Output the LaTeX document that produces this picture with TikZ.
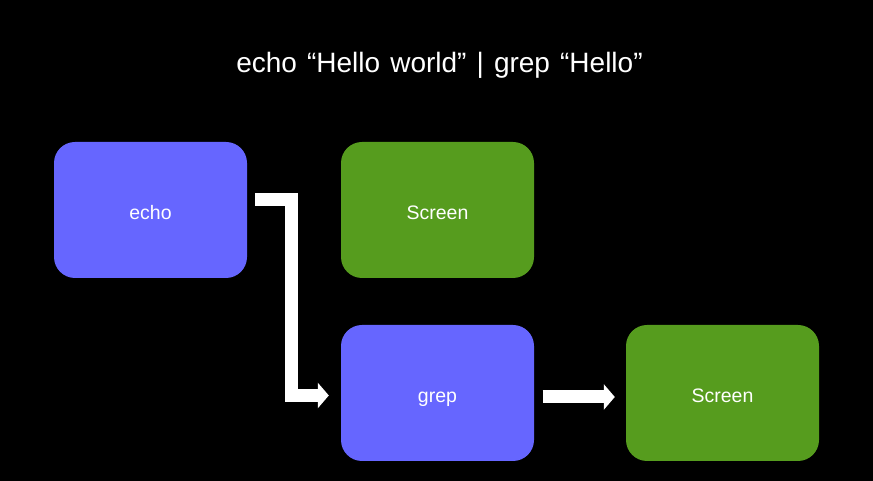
\documentclass[tikz,border=0pt]{standalone}
\usepackage{fontspec}
\setmainfont{Liberation Sans}
\newfontfamily\titlefont[WordSpace=1.3]{Liberation Sans}
\usetikzlibrary{arrows.meta}
\definecolor{boxblue}{RGB}{102,102,255}
\definecolor{boxgreen}{RGB}{86,156,30}
\begin{document}
\begin{tikzpicture}[x=1pt,y=1pt,
  box/.style={rounded corners=21pt, minimum width=193pt, minimum height=136pt, inner sep=0pt, text=white, text height=20pt, text depth=1.4pt, font=\fontsize{19.5}{22}\selectfont},
  bluebox/.style={box, fill=boxblue},
  greenbox/.style={box, fill=boxgreen},
  conn/.style={draw=white, line width=13pt, line join=miter, -{Triangle[width=25pt,length=11pt]}}]
\fill[black] (0,0) rectangle (873,481);
\useasboundingbox (0,0) rectangle (873,481);
\node[anchor=base, text=white, font=\titlefont\fontsize{28}{33}\selectfont] (title) at (439.5,408.5) {echo “Hello world” | grep “Hello”};
\node[bluebox] (echo) at (150.5,271) {echo};
\node[greenbox] (screen1) at (437.5,271) {Screen};
\node[bluebox] (grep) at (437.5,88) {grep};
\node[greenbox] (screen2) at (722.5,88) {Screen};
\coordinate (bend) at (291.3,281.5);
\draw[conn] ([xshift=8pt,yshift=10.5pt]echo.east) -- (bend) |- ([xshift=-12pt,yshift=-2.5pt]grep.west);
\draw[conn] ([xshift=8.3pt,yshift=-4pt]grep.east) -- ([xshift=-11pt,yshift=-4pt]screen2.west);
\end{tikzpicture}
\end{document}
